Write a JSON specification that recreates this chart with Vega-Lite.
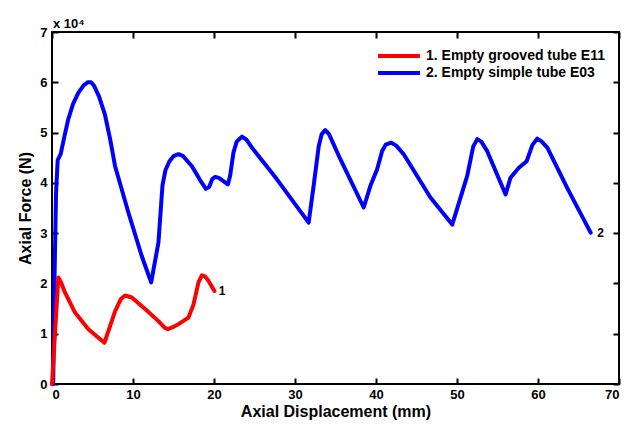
{
  "$schema": "https://vega.github.io/schema/vega-lite/v6.json",
  "width": 567,
  "height": 352,
  "autosize": {"type": "none"},
  "padding": {"left": 52, "top": 32, "right": 16, "bottom": 43},
  "background": "white",
  "title": {"text": "x 10⁴", "anchor": "start", "frame": "group", "fontSize": 13, "fontWeight": "bold", "font": "Liberation Sans", "offset": -5, "dx": 1},
  "config": {
    "view": {"stroke": "black", "strokeWidth": 2},
    "font": "Liberation Sans",
    "axis": {"domain": false, "grid": false, "tickColor": "black", "tickWidth": 2, "tickSize": -6, "labelFont": "Liberation Sans", "labelFontWeight": "bold", "labelFontSize": 13, "labelColor": "black", "titleFont": "Liberation Sans", "titleFontWeight": "bold", "titleFontSize": 16, "titleColor": "black"}
  },
  "datasets": {
    "curves": [
      {"displacement": 0, "force": 0, "series": "2. Empty simple tube E03"},
      {"displacement": 0.15, "force": 0, "series": "2. Empty simple tube E03"},
      {"displacement": 0.3, "force": 20000, "series": "2. Empty simple tube E03"},
      {"displacement": 0.5, "force": 38000, "series": "2. Empty simple tube E03"},
      {"displacement": 0.7, "force": 44500, "series": "2. Empty simple tube E03"},
      {"displacement": 1.07, "force": 45700, "series": "2. Empty simple tube E03"},
      {"displacement": 1.5, "force": 49000, "series": "2. Empty simple tube E03"},
      {"displacement": 2.0, "force": 52600, "series": "2. Empty simple tube E03"},
      {"displacement": 2.6, "force": 55700, "series": "2. Empty simple tube E03"},
      {"displacement": 3.25, "force": 57900, "series": "2. Empty simple tube E03"},
      {"displacement": 3.9, "force": 59400, "series": "2. Empty simple tube E03"},
      {"displacement": 4.4, "force": 60000, "series": "2. Empty simple tube E03"},
      {"displacement": 4.82, "force": 60000, "series": "2. Empty simple tube E03"},
      {"displacement": 5.2, "force": 59300, "series": "2. Empty simple tube E03"},
      {"displacement": 5.8, "force": 57200, "series": "2. Empty simple tube E03"},
      {"displacement": 6.55, "force": 53500, "series": "2. Empty simple tube E03"},
      {"displacement": 7.2, "force": 48500, "series": "2. Empty simple tube E03"},
      {"displacement": 7.79, "force": 43300, "series": "2. Empty simple tube E03"},
      {"displacement": 9.43, "force": 34100, "series": "2. Empty simple tube E03"},
      {"displacement": 11.09, "force": 25400, "series": "2. Empty simple tube E03"},
      {"displacement": 12.24, "force": 20200, "series": "2. Empty simple tube E03"},
      {"displacement": 13.14, "force": 28100, "series": "2. Empty simple tube E03"},
      {"displacement": 13.64, "force": 39500, "series": "2. Empty simple tube E03"},
      {"displacement": 14.0, "force": 42500, "series": "2. Empty simple tube E03"},
      {"displacement": 14.5, "force": 44300, "series": "2. Empty simple tube E03"},
      {"displacement": 15.0, "force": 45300, "series": "2. Empty simple tube E03"},
      {"displacement": 15.61, "force": 45700, "series": "2. Empty simple tube E03"},
      {"displacement": 16.2, "force": 45300, "series": "2. Empty simple tube E03"},
      {"displacement": 17.27, "force": 43300, "series": "2. Empty simple tube E03"},
      {"displacement": 18.3, "force": 40500, "series": "2. Empty simple tube E03"},
      {"displacement": 19.0, "force": 38800, "series": "2. Empty simple tube E03"},
      {"displacement": 19.4, "force": 39200, "series": "2. Empty simple tube E03"},
      {"displacement": 19.8, "force": 40800, "series": "2. Empty simple tube E03"},
      {"displacement": 20.15, "force": 41200, "series": "2. Empty simple tube E03"},
      {"displacement": 20.6, "force": 41000, "series": "2. Empty simple tube E03"},
      {"displacement": 21.72, "force": 39700, "series": "2. Empty simple tube E03"},
      {"displacement": 22.0, "force": 41500, "series": "2. Empty simple tube E03"},
      {"displacement": 22.4, "force": 46000, "series": "2. Empty simple tube E03"},
      {"displacement": 22.8, "force": 48200, "series": "2. Empty simple tube E03"},
      {"displacement": 23.45, "force": 49200, "series": "2. Empty simple tube E03"},
      {"displacement": 24.0, "force": 48600, "series": "2. Empty simple tube E03"},
      {"displacement": 24.6, "force": 47200, "series": "2. Empty simple tube E03"},
      {"displacement": 27.77, "force": 40700, "series": "2. Empty simple tube E03"},
      {"displacement": 31.69, "force": 32100, "series": "2. Empty simple tube E03"},
      {"displacement": 32.3, "force": 39400, "series": "2. Empty simple tube E03"},
      {"displacement": 32.93, "force": 47300, "series": "2. Empty simple tube E03"},
      {"displacement": 33.3, "force": 49700, "series": "2. Empty simple tube E03"},
      {"displacement": 33.74, "force": 50500, "series": "2. Empty simple tube E03"},
      {"displacement": 34.2, "force": 49700, "series": "2. Empty simple tube E03"},
      {"displacement": 35.6, "force": 44700, "series": "2. Empty simple tube E03"},
      {"displacement": 38.48, "force": 35100, "series": "2. Empty simple tube E03"},
      {"displacement": 39.31, "force": 39400, "series": "2. Empty simple tube E03"},
      {"displacement": 40.14, "force": 42700, "series": "2. Empty simple tube E03"},
      {"displacement": 40.75, "force": 46300, "series": "2. Empty simple tube E03"},
      {"displacement": 41.2, "force": 47600, "series": "2. Empty simple tube E03"},
      {"displacement": 41.87, "force": 48000, "series": "2. Empty simple tube E03"},
      {"displacement": 42.5, "force": 47400, "series": "2. Empty simple tube E03"},
      {"displacement": 43.42, "force": 45700, "series": "2. Empty simple tube E03"},
      {"displacement": 46.72, "force": 37100, "series": "2. Empty simple tube E03"},
      {"displacement": 49.41, "force": 31700, "series": "2. Empty simple tube E03"},
      {"displacement": 51.26, "force": 41400, "series": "2. Empty simple tube E03"},
      {"displacement": 52.0, "force": 47200, "series": "2. Empty simple tube E03"},
      {"displacement": 52.5, "force": 48700, "series": "2. Empty simple tube E03"},
      {"displacement": 53.0, "force": 48200, "series": "2. Empty simple tube E03"},
      {"displacement": 53.73, "force": 46300, "series": "2. Empty simple tube E03"},
      {"displacement": 56.0, "force": 37700, "series": "2. Empty simple tube E03"},
      {"displacement": 56.6, "force": 41000, "series": "2. Empty simple tube E03"},
      {"displacement": 57.64, "force": 43000, "series": "2. Empty simple tube E03"},
      {"displacement": 58.6, "force": 44300, "series": "2. Empty simple tube E03"},
      {"displacement": 59.3, "force": 47500, "series": "2. Empty simple tube E03"},
      {"displacement": 59.9, "force": 48800, "series": "2. Empty simple tube E03"},
      {"displacement": 60.4, "force": 48300, "series": "2. Empty simple tube E03"},
      {"displacement": 61.15, "force": 47000, "series": "2. Empty simple tube E03"},
      {"displacement": 63.6, "force": 39000, "series": "2. Empty simple tube E03"},
      {"displacement": 66.5, "force": 30100, "series": "2. Empty simple tube E03"},
      {"displacement": 0, "force": 0, "series": "1. Empty grooved tube E11"},
      {"displacement": 0.78, "force": 21200, "series": "1. Empty grooved tube E11"},
      {"displacement": 1.1, "force": 20300, "series": "1. Empty grooved tube E11"},
      {"displacement": 1.6, "force": 18200, "series": "1. Empty grooved tube E11"},
      {"displacement": 2.84, "force": 14200, "series": "1. Empty grooved tube E11"},
      {"displacement": 4.49, "force": 10900, "series": "1. Empty grooved tube E11"},
      {"displacement": 6.47, "force": 8200, "series": "1. Empty grooved tube E11"},
      {"displacement": 7.17, "force": 11500, "series": "1. Empty grooved tube E11"},
      {"displacement": 7.79, "force": 14500, "series": "1. Empty grooved tube E11"},
      {"displacement": 8.5, "force": 16900, "series": "1. Empty grooved tube E11"},
      {"displacement": 9.02, "force": 17600, "series": "1. Empty grooved tube E11"},
      {"displacement": 9.85, "force": 17200, "series": "1. Empty grooved tube E11"},
      {"displacement": 11.5, "force": 14900, "series": "1. Empty grooved tube E11"},
      {"displacement": 13.14, "force": 12500, "series": "1. Empty grooved tube E11"},
      {"displacement": 13.9, "force": 11200, "series": "1. Empty grooved tube E11"},
      {"displacement": 14.3, "force": 10900, "series": "1. Empty grooved tube E11"},
      {"displacement": 14.9, "force": 11300, "series": "1. Empty grooved tube E11"},
      {"displacement": 15.61, "force": 11900, "series": "1. Empty grooved tube E11"},
      {"displacement": 16.85, "force": 13200, "series": "1. Empty grooved tube E11"},
      {"displacement": 17.47, "force": 15800, "series": "1. Empty grooved tube E11"},
      {"displacement": 18.08, "force": 20200, "series": "1. Empty grooved tube E11"},
      {"displacement": 18.5, "force": 21600, "series": "1. Empty grooved tube E11"},
      {"displacement": 18.9, "force": 21400, "series": "1. Empty grooved tube E11"},
      {"displacement": 19.32, "force": 20500, "series": "1. Empty grooved tube E11"},
      {"displacement": 20.06, "force": 18500, "series": "1. Empty grooved tube E11"}
    ],
    "labels": [
      {"displacement": 20.6, "force": 18500, "label": "1"},
      {"displacement": 67.3, "force": 30000, "label": "2"}
    ]
  },
  "layer": [
    {
      "layer": [
        {
          "data": {"name": "curves"},
          "mark": {"type": "line", "strokeWidth": 4, "strokeJoin": "round", "strokeCap": "round"},
          "encoding": {
            "x": {"field": "displacement", "type": "quantitative", "scale": {"domain": [0, 70], "nice": false}, "axis": {"title": "Axial Displacement (mm)", "values": [0, 10, 20, 30, 40, 50, 60, 70], "labelPadding": 10, "titlePadding": 2}},
            "y": {"field": "force", "type": "quantitative", "scale": {"domain": [0, 70000], "nice": false}, "axis": {"title": "Axial Force (N)", "values": [0, 10000, 20000, 30000, 40000, 50000, 60000, 70000], "labelExpr": "format(datum.value / 10000, 'd')", "labelPadding": 11, "titlePadding": 6}},
            "color": {"field": "series", "type": "nominal", "scale": {"domain": ["1. Empty grooved tube E11", "2. Empty simple tube E03"], "range": ["#ff0000", "#0000ff"]}, "legend": {"title": null, "orient": "none", "legendX": 324, "legendY": 1, "gridAlign": "none", "symbolType": "stroke", "symbolStrokeWidth": 4, "symbolSize": 1764, "labelFont": "Liberation Sans", "labelFontWeight": "bold", "labelFontSize": 14, "labelColor": "black", "labelOffset": 4, "rowPadding": -14, "padding": 0, "labelLimit": 300}},
            "order": {"field": "displacement", "type": "quantitative"}
          }
        },
        {
          "data": {"name": "labels"},
          "mark": {"type": "text", "align": "left", "baseline": "middle", "font": "Liberation Sans", "fontWeight": "bold", "fontSize": 12, "color": "black"},
          "encoding": {
            "x": {"field": "displacement", "type": "quantitative"},
            "y": {"field": "force", "type": "quantitative"},
            "text": {"field": "label"}
          }
        }
      ]
    },
    {
      "data": {"name": "labels"},
      "mark": {"type": "point", "opacity": 0},
      "encoding": {
        "x": {"field": "displacement", "type": "quantitative", "scale": {"domain": [0, 70], "nice": false}, "axis": {"orient": "top", "title": null, "labels": false, "values": [0, 10, 20, 30, 40, 50, 60, 70]}},
        "y": {"field": "force", "type": "quantitative", "scale": {"domain": [0, 70000], "nice": false}, "axis": {"orient": "right", "title": null, "labels": false, "values": [0, 10000, 20000, 30000, 40000, 50000, 60000, 70000]}}
      }
    }
  ],
  "resolve": {"scale": {"x": "independent", "y": "independent"}}
}
